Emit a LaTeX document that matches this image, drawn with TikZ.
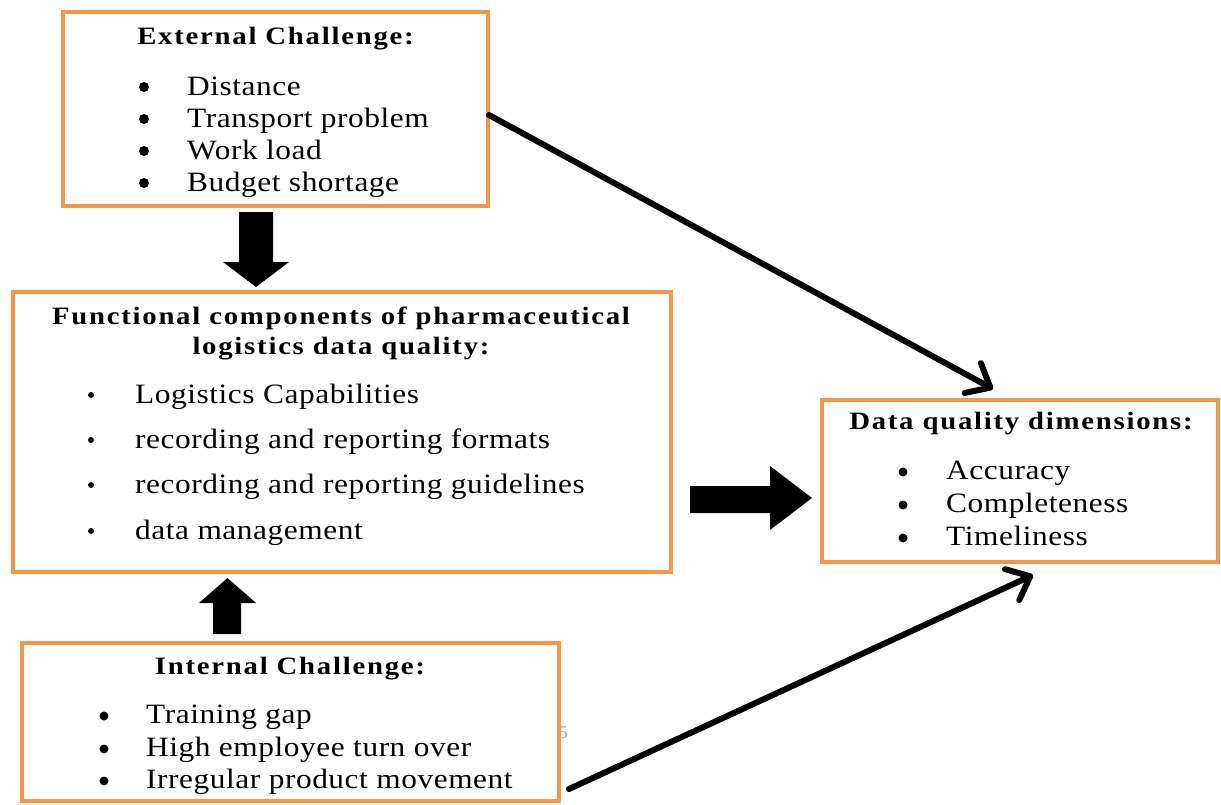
\documentclass[tikz,border=0pt]{standalone}
\usepackage{fontspec}
\setmainfont{Liberation Serif}[FakeStretch=1.12, LetterSpace=2]
\newfontfamily\ttlfont{Liberation Serif}[FakeStretch=1.15, LetterSpace=7]
\usetikzlibrary{arrows.meta}
\definecolor{org}{HTML}{F79646}
\begin{document}
\begin{tikzpicture}[x=1pt,y=-1pt,
  box/.style={draw=org, line width=4pt, inner sep=0, fill=none},
  ttl/.style={font=\fontsize{25}{27}\selectfont\ttlfont\bfseries, anchor=base, inner sep=0},
  itm/.style={font=\fontsize{28}{30}\selectfont, anchor=base west, inner sep=0},
  bigdot/.style={circle, fill=black, inner sep=0, minimum size=10pt},
  smalldot/.style={circle, fill=black, inner sep=0, minimum size=6pt},
  blockarrow/.style={fill=black},
  lnk/.style={line width=6pt, line cap=round, line join=round, -{Straight Barb[length=20pt,width=34pt,round]}}]
\useasboundingbox (0,0) rectangle (1221,804);
\fill[white] (0,0) rectangle (1221,804);

% faint page number artifact
\node[font=\fontsize{18}{20}\selectfont, text=black!35, inner sep=0] (pg) at (563,733) {5};

% boxes
\node[box, minimum width=425pt, minimum height=194pt] (ext) at (275.5,109) {};
\node[box, minimum width=658pt, minimum height=280pt] (fun) at (341.5,432) {};
\node[box, minimum width=396pt, minimum height=162pt] (dq) at (1020,480.5) {};
\node[box, minimum width=537pt, minimum height=158pt] (int) at (290.5,722) {};

% External challenge
\node[ttl] (extt) at (275.5,44) {External Challenge:};
\foreach \yy/\t [count=\i] in {95/Distance, 127/Transport problem, 159/Work load, 191/Budget shortage}{
  \node[bigdot] (eb\i) at (144,\yy-8) {};
  \node[itm] (ei\i) at (187,\yy) {\t};
}

% Functional components
\node[ttl] (funt1) at (341,324) {Functional components of pharmaceutical};
\node[ttl] (funt2) at (341,354) {logistics data quality:};
\foreach \yy/\t [count=\i] in {403/Logistics Capabilities, 448/recording and reporting formats, 493/recording and reporting guidelines, 539/data management}{
  \node[smalldot] (fb\i) at (91,\yy-8) {};
  \node[itm] (fi\i) at (135,\yy) {\t};
}

% Data quality dimensions
\node[ttl] (dqt) at (1021,429) {Data quality dimensions:};
\foreach \yy/\t [count=\i] in {479/Accuracy, 512/Completeness, 545/Timeliness}{
  \node[bigdot, minimum size=9pt] (db\i) at (903,\yy-7) {};
  \node[itm] (di\i) at (946,\yy) {\t};
}

% Internal challenge
\node[ttl] (intt) at (290,674) {Internal Challenge:};
\foreach \yy/\t [count=\i] in {723/Training gap, 756/High employee turn over, 788/Irregular product movement}{
  \node[bigdot, minimum size=9pt] (ib\i) at (104,\yy-7) {};
  \node[itm] (ii\i) at (146,\yy) {\t};
}

% block arrows
\fill[blockarrow] (239,212) -- (273,212) -- (273,262) -- (289,262) -- (256,287) -- (223,262) -- (239,262) -- cycle;
\fill[blockarrow] (213,634) -- (241,634) -- (241,603) -- (256,603) -- (227.5,578) -- (199,603) -- (213,603) -- cycle;
\fill[blockarrow] (690,486) -- (770,486) -- (770,466) -- (812,498) -- (770,530) -- (770,513) -- (690,513) -- cycle;

% line arrows
\coordinate (s1) at (489,115);
\coordinate (e1) at (993,389);
\coordinate (s2) at (569,789);
\coordinate (e2) at (1033,575);
\draw[lnk] (s1) -- (e1);
\draw[lnk] (s2) -- (e2);
\end{tikzpicture}
\end{document}
